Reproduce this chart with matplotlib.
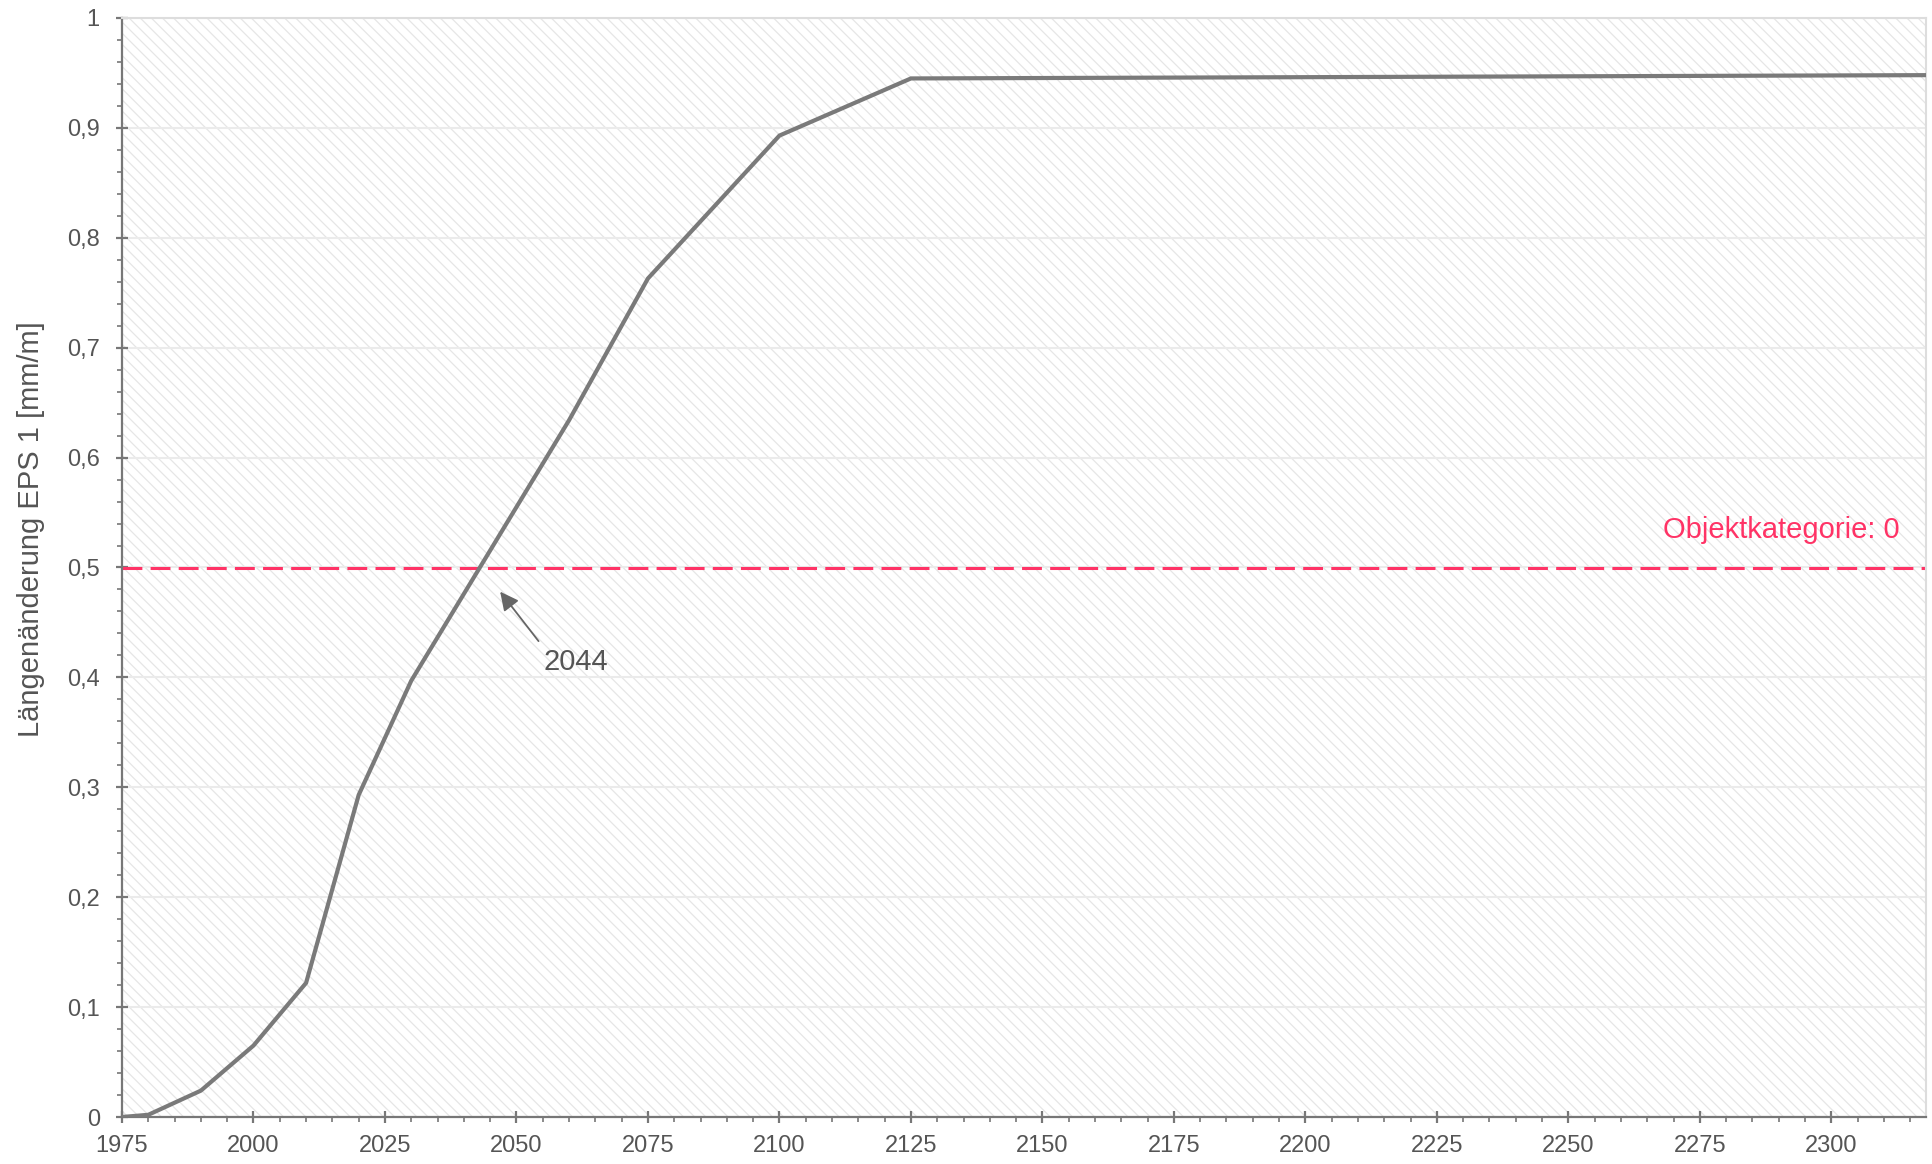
import matplotlib
matplotlib.use('Agg')
import matplotlib.pyplot as plt
from matplotlib.patches import Rectangle
from matplotlib.ticker import MultipleLocator, FuncFormatter

# Längenänderung über die Zeit
jahre = [1975, 1980, 1990, 2000, 2010, 2020, 2030, 2060, 2075, 2100, 2125, 2318]
werte = [0.0, 0.002, 0.024, 0.065, 0.122, 0.293, 0.397, 0.634, 0.763, 0.893, 0.945, 0.948]

grenzwert = 0.5
grenz_text = 'Objektkategorie: 0'
schnitt_text = '2044'

plt.rcParams['font.family'] = ['Liberation Sans', 'DejaVu Sans']
plt.rcParams['hatch.linewidth'] = 0.9

grau = '#555555'
achse = '#777777'
rot = '#ff3366'

fig = plt.figure(figsize=(19.33, 11.64), dpi=100)
ax = fig.add_axes([122 / 1933, 1 - 1117 / 1164, (1926 - 122) / 1933, (1117 - 18) / 1164])

# schraffierter Hintergrund
ax.add_patch(Rectangle((0, 0), 1, 1, transform=ax.transAxes, facecolor='white',
                       edgecolor='#e6e6e6', hatch='\\\\\\', lw=0, zorder=0))

ax.plot(jahre, werte, color='#7a7a7a', lw=3.0, zorder=3, solid_joinstyle='miter')
ax.axhline(grenzwert, color=rot, lw=2.2, ls=(0, (6.5, 2.7)), zorder=2)

ax.text(2313, 0.527, grenz_text, color=rot, fontsize=21, ha='right', va='baseline')
ax.annotate('', xy=(2046.9, 0.478), xytext=(2054.2, 0.433),
            arrowprops=dict(arrowstyle='-|>', color='#666666', lw=1.3,
                            mutation_scale=28, shrinkA=0, shrinkB=0))
ax.text(2061.2, 0.414, schnitt_text, color=grau, fontsize=21, ha='center', va='center')

ax.set_xlim(1975, 2318)
ax.set_ylim(0, 1)
ax.xaxis.set_major_locator(MultipleLocator(25))
ax.xaxis.set_minor_locator(MultipleLocator(5))
ax.yaxis.set_major_locator(MultipleLocator(0.1))
ax.yaxis.set_minor_locator(MultipleLocator(0.02))
ax.yaxis.set_major_formatter(FuncFormatter(lambda v, p: ('%g' % round(v, 2)).replace('.', ',')))

ax.grid(True, axis='y', which='major', color='#ebebeb', lw=1.5, zorder=1)
ax.set_axisbelow(True)

for s in ['top', 'right']:
    ax.spines[s].set_color('#dddddd')
    ax.spines[s].set_linewidth(1.5)
for s in ['left', 'bottom']:
    ax.spines[s].set_color(achse)
    ax.spines[s].set_linewidth(1.6)

ax.tick_params(which='major', direction='inout', length=8, width=1.6, color=achse,
               labelsize=17, labelcolor=grau, pad=9)
ax.tick_params(axis='y', which='major', pad=12)
ax.tick_params(which='minor', direction='out', length=3.5, width=1.2, color=achse)

fig.text(31 / 1933, 1 - 529 / 1164, 'Längenänderung EPS 1 [mm/m]', rotation=90,
         ha='center', va='center', fontsize=21, color=grau)

fig.savefig('out.png', dpi=100)
